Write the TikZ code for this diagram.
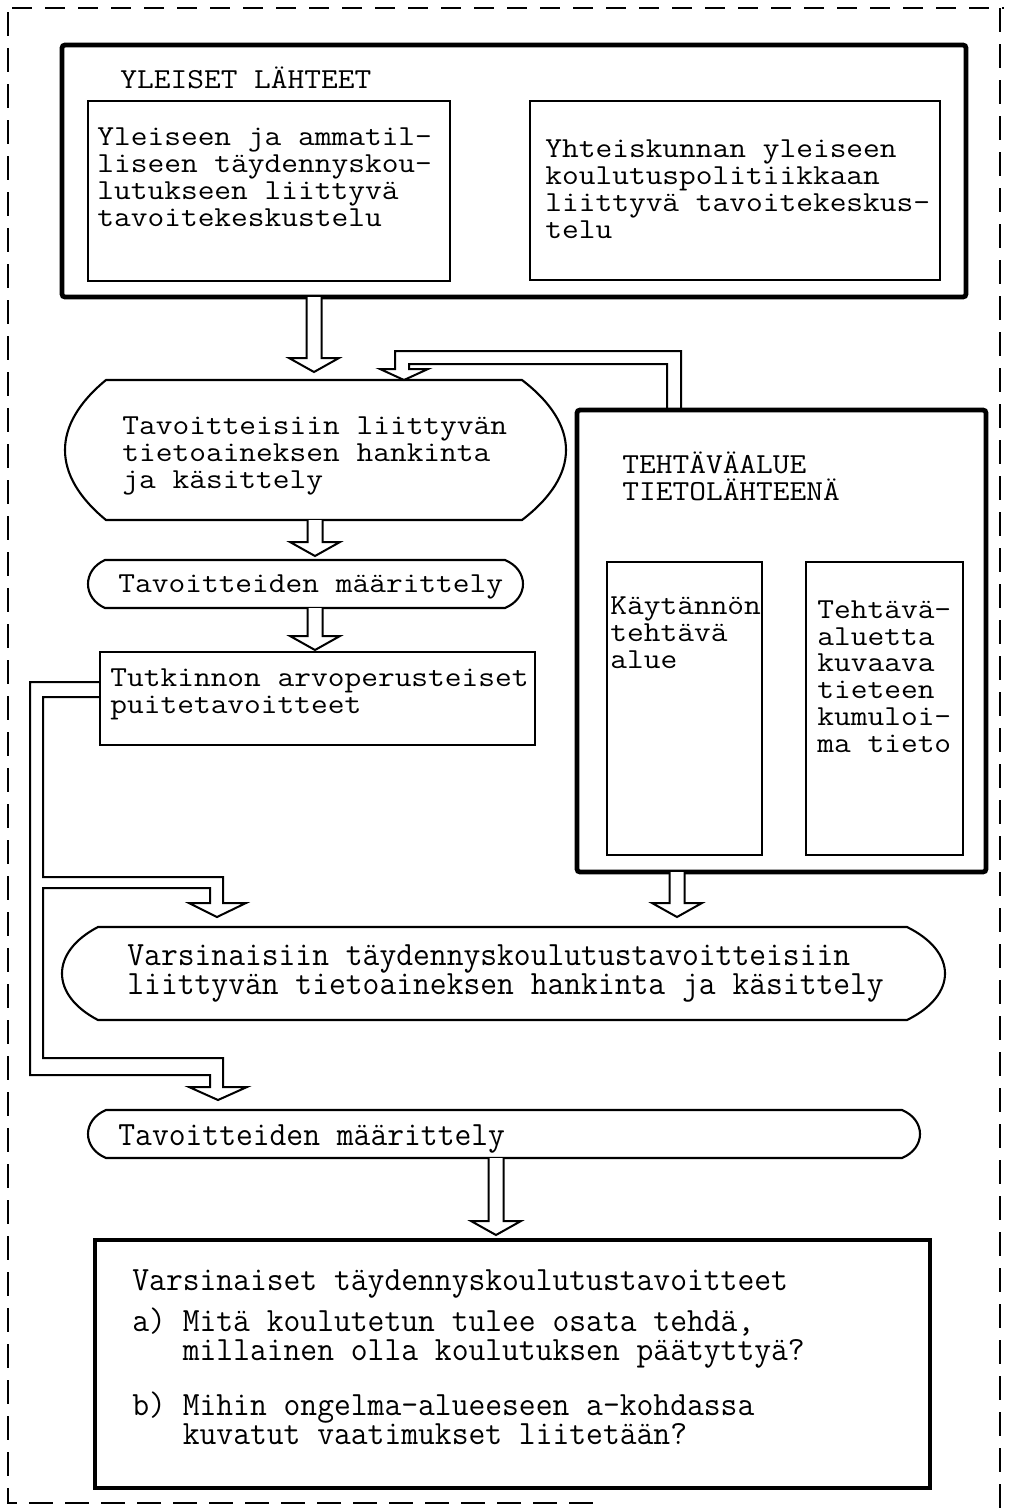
\documentclass[tikz,border=0pt]{standalone}
\usepackage{fontspec}
\newfontfamily\tw[FakeStretch=1.12]{Latin Modern Mono}
\newfontfamily\twc[FakeStretch=0.96]{Latin Modern Mono}
\usetikzlibrary{calc,fit}

\tikzset{
  heavy/.style={draw, line width=2.4pt, rounded corners=1.5pt},
  plain/.style={draw, line width=1.05pt},
  frame/.style={inner sep=0pt, outer sep=0pt},
  pipe/.style={draw, line width=1pt, line join=miter, fill=white},
  txt/.style={font={\tw\fontsize{14.5}{13.35}\selectfont\lineskiplimit=-100pt\lineskip=0pt},
    inner sep=0pt, anchor=base west, align=left},
  txtc/.style={font={\twc\fontsize{17}{14.4}\selectfont\lineskiplimit=-100pt\lineskip=0pt},
    inner sep=0pt, anchor=base west, align=left},
  hborder/.style={line width=1.2pt, dash pattern=on 10pt off 6.5pt},
  vborder/.style={line width=1.2pt, dash pattern=on 12pt off 6pt},
}

% outline with straight top and bottom and bulging ends
\newcommand\SideBulge[4]{%
  \draw[plain]
    ($(#1.north west)+(#2,0)$) -- ($(#1.north east)+(-#3,0)$)
    .. controls ($(#1.north east)+(#3/3,#4)$) and ($(#1.south east)+(#3/3,-#4)$) .. ($(#1.south east)+(-#3,0)$)
    -- ($(#1.south west)+(#2,0)$)
    .. controls ($(#1.south west)+(-#2/3,-#4)$) and ($(#1.north west)+(-#2/3,#4)$) .. cycle;
}

% hollow downward arrow: x, source node, target node, gap above target
\newcommand\HollowDrop[4]{%
  \path (#1,0 |- #2.south) coordinate (hdA)
        ($(#1,0 |- #3.north)+(0,-#4)$) coordinate (hdB);
  \draw[pipe] ($(hdA)+(-7.5,0)$) -- ($(hdB)+(-7.5,-14)$) -- ($(hdB)+(-25,-14)$) -- (hdB)
    -- ($(hdB)+(25,-14)$) -- ($(hdB)+(7.5,-14)$) -- ($(hdA)+(7.5,0)$);
}

\begin{document}
\begin{tikzpicture}[x=0.5pt,y=-0.5pt]
\useasboundingbox (0,0) rectangle (1008,1511);

% dashed surround
\draw[hborder] (12,8) -- (1004,8);
\draw[vborder] (1000,8) -- (1000,1511);
\draw[vborder] (8,12) -- (8,1503) -- (600,1503);

% general sources (text anchors sit on the last line's baseline)
\node[frame, heavy, fit={(62,45) (966,297)}] (yl) {};
\node[txt] (ylh) at (120,88) {YLEISET LÄHTEET};
\node[frame, plain, fit={(88,101) (450,281)}] (ya) {};
\node[txt] (yat) at (97,226) {Yleiseen ja ammatil-\\liseen täydennyskou-\\lutukseen liittyvä\\tavoitekeskustelu};
\node[frame, plain, fit={(530,101) (940,280)}] (yb) {};
\node[txt] (ybt) at (545,238) {Yhteiskunnan yleiseen\\koulutuspolitiikkaan\\liittyvä tavoitekeskus-\\telu};

% first acquisition step
\node[frame, fit={(65,380) (566,520)}] (n1) {};
\SideBulge{n1}{41}{44}{45}
\node[txt] (n1t) at (122,488) {Tavoitteisiin liittyvän\\tietoaineksen hankinta\\ja käsittely};

\node[frame, fit={(88,560) (523,608)}] (m1) {};
\SideBulge{m1}{17}{18}{10}
\node[txt] (m1t) at (118,592) {Tavoitteiden määrittely};

\node[frame, plain, fit={(100,652) (535,745)}] (tk) {};
\node[txt] (tkt) at (110,713) {Tutkinnon arvoperusteiset\\puitetavoitteet};

% task area as a source
\node[frame, heavy, fit={(577,410) (986,872)}] (te) {};
\node[txt] (teh) at (622,500) {TEHTÄVÄALUE\\TIETOLÄHTEENÄ};
\node[frame, plain, fit={(607,562) (762,855)}] (kt) {};
\node[txt] (ktt) at (610,668) {Käytännön\\tehtävä\\alue};
\node[frame, plain, fit={(806,562) (963,855)}] (tt) {};
\node[txt] (ttt) at (817,752) {Tehtävä-\\aluetta\\kuvaava\\tieteen\\kumuloi-\\ma tieto};

% second acquisition step
\node[frame, fit={(62,927) (945,1020)}] (vn) {};
\SideBulge{vn}{36}{38}{25}
\node[txtc] (vnt) at (127,994) {Varsinaisiin täydennyskoulutustavoitteisiin\\liittyvän tietoaineksen hankinta ja käsittely};

\node[frame, fit={(88,1110) (920,1158)}] (m2) {};
\SideBulge{m2}{18}{18}{10}
\node[txtc] (m2t) at (118,1145) {Tavoitteiden määrittely};

\node[frame, draw, line width=1.6pt, fit={(95,1240) (930,1488)}] (fb) {};
\node[txtc] (fbh) at (132,1290) {Varsinaiset täydennyskoulutustavoitteet};
\node[txtc] (fba) at (132,1360) {a) Mitä koulutetun tulee osata tehdä,\\\hphantom{a) }millainen olla koulutuksen päätyttyä?};
\node[txtc] (fbb) at (132,1444) {b) Mihin ongelma-alueeseen a-kohdassa\\\hphantom{b) }kuvatut vaatimukset liitetään?};

% straight hollow arrows
\HollowDrop{314}{yl}{n1}{8}
\HollowDrop{315}{n1}{m1}{4}
\HollowDrop{315}{m1}{tk}{2}
\HollowDrop{677}{te}{vn}{10}
\HollowDrop{496}{m2}{fb}{5}

% feedback pipe from the task area to the first step
\draw[pipe, fill=none] (681,0 |- te.north) |- (395,351) -- (395,369) -- (380,369)
  -- (404,0 |- n1.north) -- (428,369) -- (409,369) |- (667,364) -- (667,0 |- te.north);

% pipe from the frame goals to both later steps
\draw[pipe, fill=none] (tk.west |- 0,682) -| (30,1075) -- (210,1075) -- (210,1087) -- (189,1087)
  -- ($(218,0 |- m2.north)+(0,-10)$) -- (247,1087) -- (223,1087) -- (223,1058) -- (43,1058)
  -- (43,888) -- (210,888) -- (210,903) -- (189,903)
  -- ($(217,0 |- vn.north)+(0,-10)$) -- (246,903) -- (223,903) -- (223,877) -- (43,877)
  -- (43,697) -- (tk.west |- 0,697);
\end{tikzpicture}
\end{document}
